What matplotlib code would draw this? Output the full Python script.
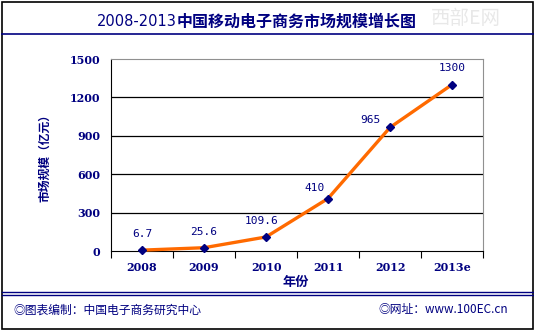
import matplotlib
matplotlib.use("Agg")
import matplotlib.pyplot as plt
from matplotlib.patches import Rectangle
from matplotlib.lines import Line2D

plt.rcParams['font.family'] = ['Noto Sans CJK SC', 'DejaVu Sans']

years = ["2008", "2009", "2010", "2011", "2012", "2013e"]
values = [6.7, 25.6, 109.6, 410, 965, 1300]
labels = ["6.7", "25.6", "109.6", "410", "965", "1300"]
label_offsets = [(0, 8), (0, 8), (-3, 8), (-10, 4), (-14, 2), (0, 8)]
yticks = [0, 300, 600, 900, 1200, 1500]

NAVY = "#000080"
ORANGE = "#FF6A00"

W, H = 534, 330
fig = plt.figure(figsize=(W / 100, H / 100), dpi=100)
fig.patch.set_facecolor("white")

def fx(px):
    return px / W

def fy(py):
    return 1 - py / H

# outer frame
fig.add_artist(Rectangle((fx(1.5), fy(328.5)), fx(531), 327 / H, transform=fig.transFigure,
                         fill=False, edgecolor="black", linewidth=1.2))
# title underline
fig.add_artist(Line2D([fx(1.5), fx(532.5)], [fy(34), fy(34)], transform=fig.transFigure,
                      color=NAVY, linewidth=1.2))
# double lines above footer
for yy in (291.7, 295.2):
    fig.add_artist(Line2D([fx(1.5), fx(532.5)], [fy(yy), fy(yy)], transform=fig.transFigure,
                          color=NAVY, linewidth=1.0))

# watermark
fig.text(fx(466), fy(19), "西部E网", color="#e8e8e8", fontsize=14, ha="center", va="center")

# title
fig.text(fx(177), fy(22), "2008-2013", color=NAVY, fontsize=10.5, ha="right", va="center",
         family="DejaVu Sans")
fig.text(fx(177), fy(22), "中国移动电子商务市场规模增长图", color=NAVY, fontsize=11.5,
         fontweight="bold", ha="left", va="center")

# footer
fig.text(fx(13), fy(310), "◎图表编制：中国电子商务研究中心", color=NAVY, fontsize=8.5,
         ha="left", va="center")
fig.text(fx(378), fy(310), "◎网址：www.100EC.cn", color=NAVY, fontsize=8.5,
         ha="left", va="center")

# plot area
x0, x1, y0, y1 = 111, 483, 59, 251
ax = fig.add_axes([fx(x0), fy(y1), (x1 - x0) / W, (y1 - y0) / H])
ax.set_xlim(-0.5, len(years) - 0.5)
ax.set_ylim(0, 1500)
ax.set_yticks(yticks)
ax.set_yticklabels([str(t) for t in yticks], color=NAVY, fontsize=8, fontweight="bold",
                   family="DejaVu Serif")
ax.tick_params(axis="y", length=0, pad=8)
ax.set_xticks(range(len(years)))
ax.set_xticklabels(years, color=NAVY, fontsize=8, fontweight="bold", family="DejaVu Serif")
ax.tick_params(axis="x", length=0, pad=8)
ax.set_xticks([i + 0.5 for i in range(-1, len(years))], minor=True)
ax.tick_params(axis="x", which="minor", length=5, width=0.8, color="black", direction="out")

for g in yticks[1:-1]:
    ax.axhline(g, color="black", linewidth=0.9, zorder=1)
ax.spines["left"].set_color("black")
ax.spines["bottom"].set_color("black")
ax.spines["top"].set_color("#909090")
ax.spines["right"].set_color("#909090")

xs = list(range(len(years)))
ax.plot(xs, values, color=ORANGE, linewidth=2.4, zorder=3, clip_on=False)
ax.plot(xs, values, linestyle="none", marker="D", markersize=4.5, color=NAVY, zorder=4,
        clip_on=False)
for x, v, lab, off in zip(xs, values, labels, label_offsets):
    ax.annotate(lab, (x, v), xytext=off, textcoords="offset points", ha="center",
                va="bottom", color=NAVY, fontsize=8, family="DejaVu Sans Mono")

fig.text(fx(45), fy(155), "市场规模（亿元）", color=NAVY, fontsize=8.5, fontweight="bold",
         rotation=90, ha="center", va="center")
fig.text(fx(296), fy(282), "年份", color=NAVY, fontsize=9.5, fontweight="bold",
         ha="center", va="center")

fig.savefig("out.png", dpi=100)
